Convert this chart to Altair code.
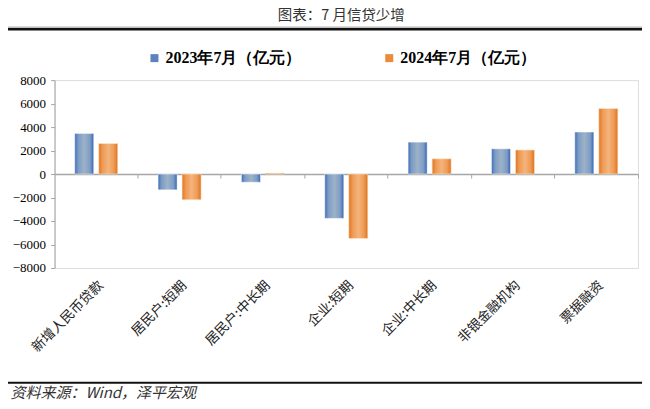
import altair as alt
import pandas as pd

categories = ["新增人民币贷款", "居民户:短期", "居民户:中长期", "企业:短期", "企业:中长期", "非银金融机构", "票据融资"]
v2023 = [3459, -1350, -700, -3780, 2720, 2150, 3580]
v2024 = [2600, -2200, 80, -5500, 1300, 2050, 5580]
series = ["2023年7月（亿元）", "2024年7月（亿元）"]
y_ticks = [-8000, -6000, -4000, -2000, 0, 2000, 4000, 6000, 8000]

rows = []
for c, a, b in zip(categories, v2023, v2024):
    rows.append({"cat": c, "series": series[0], "value": a})
    rows.append({"cat": c, "series": series[1], "value": b})
df = pd.DataFrame(rows)

W, H = 584, 188
SERIF = "Liberation Serif"
CJK = "Noto Sans CJK SC"

x_scale = alt.Scale(domain=categories, paddingInner=0, paddingOuter=0)
xo_scale = alt.Scale(domain=series, paddingInner=0.208, paddingOuter=0.84)
y_scale = alt.Scale(domain=[-8000, 8000], nice=False)

blue_grad = alt.Gradient(
    gradient="linear", x1=0, x2=1, y1=0, y2=0,
    stops=[alt.GradientStop(offset=0, color="#3A6CBA"),
           alt.GradientStop(offset=0.18, color="#7C9BC4"),
           alt.GradientStop(offset=0.5, color="#9DB2C8"),
           alt.GradientStop(offset=0.82, color="#7C9BC4"),
           alt.GradientStop(offset=1, color="#3064B5")])
orange_grad = alt.Gradient(
    gradient="linear", x1=0, x2=1, y1=0, y2=0,
    stops=[alt.GradientStop(offset=0, color="#E0741F"),
           alt.GradientStop(offset=0.2, color="#EE9A55"),
           alt.GradientStop(offset=0.5, color="#F4B47C"),
           alt.GradientStop(offset=0.8, color="#EE9A55"),
           alt.GradientStop(offset=1, color="#DD711C")])

base = alt.Chart(df)

x_enc = alt.X("cat:N", scale=x_scale, sort=categories, title=None,
              axis=alt.Axis(labelAngle=-45, domain=False, ticks=False,
                            labelFont=CJK, labelFontSize=13.5, labelColor="#222",
                            labelPadding=10, labelLimit=200))
xo_enc = alt.XOffset("series:N", scale=xo_scale, sort=series)
y_enc = alt.Y("value:Q", scale=y_scale, title=None,
              axis=alt.Axis(values=y_ticks, grid=False, domainColor="#A6A6A6",
                            tickColor="#A6A6A6", tickSize=4, labelFont=SERIF,
                            labelFontSize=13, labelColor="#000", labelPadding=5,
                            labelOverlap=False, format="d"))
x_none = alt.X("cat:N", scale=x_scale, sort=categories, axis=None)
y_none = alt.Y("value:Q", scale=y_scale, axis=None)

bars_a = base.transform_filter(alt.datum.series == series[0]).mark_bar(
    color=blue_grad, stroke="#FFFFFF", strokeWidth=0.5).encode(x=x_enc, xOffset=xo_enc, y=y_enc)
bars_b = base.transform_filter(alt.datum.series == series[1]).mark_bar(
    color=orange_grad, stroke="#FBE9C8", strokeWidth=0.6).encode(x=x_none, xOffset=xo_enc, y=y_none)

# zero line with band-boundary ticks
zero_axis = base.mark_point(opacity=0).encode(
    x=alt.X("cat:N", scale=x_scale, sort=categories, title=None,
            axis=alt.Axis(orient="bottom", offset=-(H / 2), labels=False, title=None,
                          domainColor="#A6A6A6", domainWidth=1.5, tickColor="#A6A6A6",
                          tickSize=4, bandPosition=1)),
    y=y_none,
)

legend_layer = base.mark_square(opacity=0).encode(
    x=x_none, y=y_none,
    color=alt.Color("series:N", sort=series,
                    scale=alt.Scale(domain=series, range=["#5A83C0", "#EC8A3C"]),
                    legend=alt.Legend(title=None, orient="none", direction="horizontal",
                                      legendX=92, legendY=-30, symbolType="square",
                                      symbolSize=64, symbolOpacity=1, symbolStrokeWidth=0,
                                      labelFont=SERIF, labelFontSize=16, labelFontWeight="bold",
                                      labelColor="#000", columnPadding=80, labelOffset=3)))

one = alt.Data(values=[{"a": 1}])
title_txt = alt.Chart(one).mark_text(text="图表：7 月信贷少增", font=CJK, fontSize=14.5,
                                     color="#333", align="center", baseline="middle").encode(
    x=alt.value(287), y=alt.value(-64))
top_rule = alt.Chart(one).mark_rule(color="#111", strokeWidth=2.5).encode(
    x=alt.value(-47), x2=alt.value(W + 4), y=alt.value(-51))
top_rule2 = alt.Chart(one).mark_rule(color="#999", strokeWidth=1).encode(
    x=alt.value(-47), x2=alt.value(W + 4), y=alt.value(-53))
bot_rule = alt.Chart(one).mark_rule(color="#111", strokeWidth=2).encode(
    x=alt.value(-47), x2=alt.value(W + 4), y=alt.value(303))
source_txt = alt.Chart(one).mark_text(text="资料来源：Wind，泽平宏观", font=CJK, fontSize=15,
                                      fontStyle="italic", color="#333", align="left",
                                      baseline="middle").encode(
    x=alt.value(-44), y=alt.value(313))

chart = alt.layer(bars_a, bars_b, zero_axis, legend_layer,
                  title_txt, top_rule2, top_rule, bot_rule, source_txt).resolve_axis(
    x="independent", y="independent").properties(
    width=W, height=H,
    padding={"left": 46.6, "top": 72, "right": 4, "bottom": 133},
    autosize=alt.AutoSizeParams(type="none"),
).configure_view(strokeWidth=0).configure(background="#FFFFFF")

chart.save("out.html", embed_options={"renderer": "svg", "actions": False})
